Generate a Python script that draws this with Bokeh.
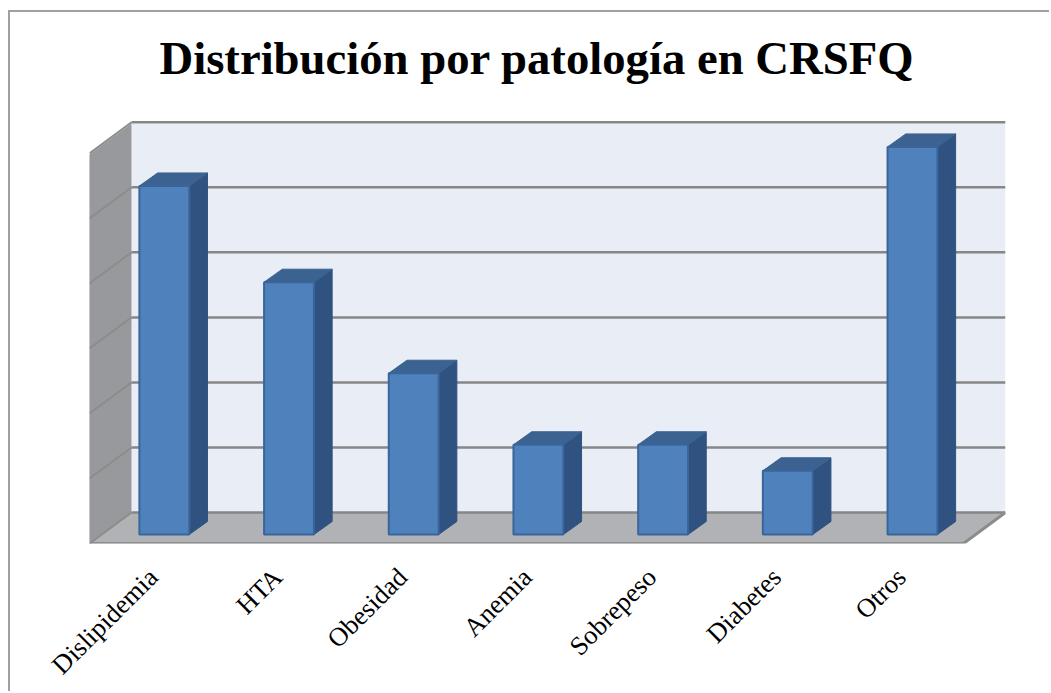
from bokeh.plotting import figure
from bokeh.models import Range1d, LinearAxis, FixedTicker, Title
from bokeh.embed import file_html
from bokeh.resources import INLINE

title_text = "Distribución por patología en CRSFQ"
categories = ["Dislipidemia", "HTA", "Obesidad", "Anemia", "Sobrepeso", "Diabetes", "Otros"]
values = [26.8, 19.4, 12.4, 6.9, 6.9, 4.9, 29.8]
grid_values = [0, 5, 10, 15, 20, 25, 30]

BAR_W = 0.40
BAR_DX, BAR_DY = 0.146, 1.0
X0, X1 = -0.60, 6.746
Y0, Y1 = -0.692, 31.6
Y_TOP = Y1 + 1.77
WALL_DX, WALL_DY = 0.337, 2.385
GRID_BASE = Y0 + WALL_DY
LABEL_SHIFT = 0.09

FONT = "Liberation Serif"
BORDER = "#a0a0a0"

p = figure(width=1041, height=681, x_range=Range1d(X0, X1), y_range=Range1d(Y0, Y_TOP),
           x_axis_type=None, y_axis_type=None, toolbar_location=None, output_backend="svg",
           min_border_left=79, min_border_right=46, min_border_top=88, min_border_bottom=150,
           background_fill_color="white", border_fill_color="white", outline_line_color=None)
p.margin = (10, 0, 0, 8)
p.styles = {"border-top": f"2px solid {BORDER}", "border-left": f"2px solid {BORDER}"}
p.xgrid.visible = False
p.ygrid.visible = False

title = Title(text=title_text, text_font=FONT, text_font_size="46.7px", text_font_style="bold",
              text_color="black", align="left", offset=70, standoff=34)
p.title = title

back_x0, back_x1 = X0 + WALL_DX, X1
front_x1 = X1 - WALL_DX
top_front = Y1 - WALL_DY

# back wall, left wall, floor
p.quad(left=[back_x0], right=[back_x1], bottom=[GRID_BASE], top=[Y1], fill_color="#e9edf6", line_color=None)
p.patch([X0, back_x0, back_x0, X0], [Y0, GRID_BASE, Y1, top_front], fill_color="#98999c", line_color=None)
p.patch([X0, front_x1, back_x1, back_x0], [Y0, Y0, GRID_BASE, GRID_BASE], fill_color="#b0b2b5", line_color=None)

# gridlines on back and left walls
gy = [GRID_BASE + g for g in grid_values]
p.multi_line([[back_x0, back_x1] for _ in gy], [[y, y] for y in gy], line_color="#868686", line_width=2.5)
p.multi_line([[X0, back_x0] for _ in gy], [[y - WALL_DY, y] for y in gy], line_color="#8c8c8c", line_width=2)
p.line([X0, front_x1, back_x1], [Y0, Y0, GRID_BASE], line_color="#8c8c8c", line_width=3)
p.line([X0, X0], [Y0, top_front], line_color="#a6a7a9", line_width=1)

# bars
xs = list(range(len(values)))
side_x, side_y, top_x, top_y = [], [], [], []
for i, v in zip(xs, values):
    xr = i + BAR_W / 2
    xl = i - BAR_W / 2
    side_x.append([xr, xr + BAR_DX, xr + BAR_DX, xr])
    side_y.append([0, BAR_DY, v + BAR_DY, v])
    top_x.append([xl, xl + BAR_DX, xr + BAR_DX, xr])
    top_y.append([v, v + BAR_DY, v + BAR_DY, v])
p.patches(side_x, side_y, fill_color="#2f5280", line_color="#2f5280", line_width=1)
p.patches(top_x, top_y, fill_color="#3b6290", line_color="#3b6290", line_width=1)
p.vbar(x=xs, width=BAR_W, top=values, bottom=0, fill_color="#4f81bd", line_color="#3a659b", line_width=2)

# category labels
ticks = [i - LABEL_SHIFT for i in xs]
axis = LinearAxis(ticker=FixedTicker(ticks=ticks),
                  major_label_overrides={t: c for t, c in zip(ticks, categories)},
                  major_label_orientation=0.785,
                  major_label_text_font=FONT, major_label_text_font_size="26.5px",
                  major_label_text_color="black", major_label_standoff=23,
                  axis_line_color=None, major_tick_line_color=None, minor_tick_line_color=None)
p.add_layout(axis, "below")

open("out.html", "w").write(file_html(p, INLINE))
